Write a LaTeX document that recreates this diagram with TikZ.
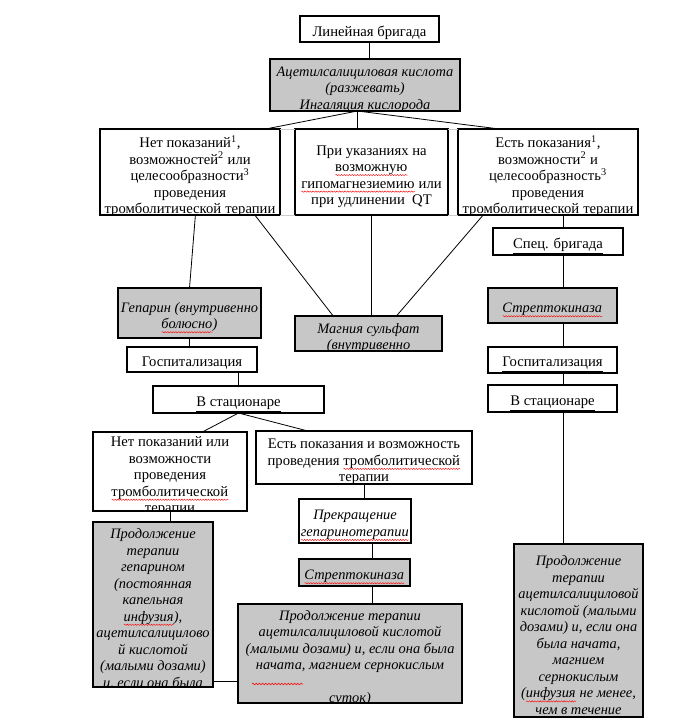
\documentclass[tikz,border=0pt]{standalone}
\usepackage{fontspec}
\setmainfont{Liberation Serif}
\usetikzlibrary{calc,decorations.pathmorphing}

% red wavy underline of the spell checker
\newsavebox{\spellbox}
\newcommand{\spell}[1]{\sbox{\spellbox}{#1}\rlap{\usebox{\spellbox}}\tikz[x=1pt,y=1pt,baseline=2.6pt]
    \draw[red, line width=0.3pt, decorate, decoration={snake, amplitude=0.5pt, segment length=2pt}] (0pt,0pt) -- (\wd\spellbox,0pt);}
\newcommand{\boxfont}{\fontsize{11}{12.4}\selectfont}
\newcommand{\drugfont}{\fontsize{10.8}{12.4}\selectfont\itshape}

\tikzset{
    box/.style={draw, line width=1.9pt, inner sep=0pt, outer sep=0pt},
    drug/.style={box, fill=black!22},
    wh/.style 2 args={minimum width=#1*0.75pt, minimum height=#2*0.75pt},
    txt/.style 2 args={path picture={\node[anchor=north, align=center, inner sep=0pt, font=#1]
        at ([yshift=-3.5pt]path picture bounding box.north) {#2};}},
    utxt/.style={txt={\boxfont}{#1}},
    itxt/.style={txt={\drugfont}{#1}},
    link/.style={line width=0.6pt},
}

\begin{document}
\begin{tikzpicture}[x=0.75pt,y=-0.75pt]
    \useasboundingbox (0,0) rectangle (699,720);
    % top
    \node[box, wh={139}{26}, utxt={\underline{Линейная бригада}}] (lin) at (369.5,29) {};
    \node[drug, wh={190}{52}, itxt={Ацетилсалициловая кислота\\(разжевать)\\Ингаляция кислорода}] (asa) at (365,85) {};
    \node[box, wh={180}{86}, utxt={Нет показаний\textsuperscript{1},\\возможностей\textsuperscript{2} или\\целесообразности\textsuperscript{3}\\проведения\\\spell{тромболитической} терапии}] (noind) at (190,172) {};
    \node[box, wh={153}{86}, utxt={При указаниях на\\\spell{возможную}\\\spell{гипомагнезиемию} или\\при удлинении~ QT}] (hypo) at (371.5,172) {};
    \node[box, wh={180}{86}, utxt={Есть показания\textsuperscript{1},\\возможности\textsuperscript{2} и\\целесообразность\textsuperscript{3}\\проведения\\\spell{тромболитической} терапии}] (ind) at (548,172) {};
    % middle
    \node[box, wh={130}{27}, utxt={\underline{Спец. бригада}}] (spec) at (558,241.5) {};
    \node[drug, wh={143}{50}, itxt={Гепарин (внутривенно\\\spell{болюсно})}] (hep) at (189.5,313) {};
    \node[drug, wh={147}{35}, itxt={Магния сульфат\\(внутривенно}] (mag) at (368.5,333.5) {};
    \node[drug, wh={129}{35}, itxt={\spell{Стрептокиназа}}] (strR) at (552.5,305.5) {};
    \node[box, wh={130}{25}, utxt={\underline{Госпитализация}}] (hospL) at (192,359.5) {};
    \node[box, wh={129}{26}, utxt={\underline{Госпитализация}}] (hospR) at (552.5,360) {};
    \node[box, wh={171}{27}, utxt={\underline{В стационаре}}] (statL) at (238.5,399.5) {};
    \node[box, wh={129}{27}, utxt={\underline{В стационаре}}] (statR) at (552.5,398.5) {};
    % bottom
    \node[box, wh={154}{79}, utxt={Нет показаний или\\возможности\\проведения\\\spell{тромболитической}\\терапии}] (noind2) at (170,471.5) {};
    \node[box, wh={216}{53}, utxt={Есть показания и возможность\\проведения \spell{тромболитической}\\терапии}] (ind2) at (364,457.5) {};
    \node[box, wh={112}{44}, itxt={Прекращение\\\spell{гепаринотерапии}}] (stop) at (355,521) {};
    \node[drug, wh={111}{27}, itxt={\spell{Стрептокиназа}}] (strM) at (354.5,572.5) {};
    \node[drug, wh={120}{165}, itxt={Продолжение\\терапии\\гепарином\\(постоянная\\капельная\\\spell{инфузия}),\\ацетилсалицилово\\й кислотой\\(малыми дозами)\\и, если она была}] (contL) at (153,604.5) {};
    \node[drug, wh={224}{99}, itxt={Продолжение терапии\\ацетилсалициловой кислотой\\(малыми дозами) и, если она была\\начата, магнием сернокислым\\[12.4pt]суток)}] (contM) at (350,653.5) {};
    \node[drug, wh={129}{173}, itxt={Продолжение\\терапии\\ацетилсалициловой\\кислотой (малыми\\дозами) и, если она\\была начата,\\магнием\\сернокислым\\(\spell{инфузия} не менее,\\чем в течение}] (contR) at (578.5,630.5) {};
    \draw[red, decorate, decoration={snake, amplitude=0.6pt, segment length=2.4pt}] (252,684) -- (303,684);

    % faint table lines between the three upper boxes
    \draw[gray!40, line width=0.5pt] (noind.north east) -- (hypo.north west) (hypo.north east) -- (ind.north west)
        (noind.south east) -- (hypo.south west) (hypo.south east) -- (ind.south west);

    % connectors
    \coordinate (asaout) at ($(asa.south west)!0.46!(asa.south east)$);
    \coordinate (rcol) at (563,0);
    \coordinate (mcol) at (372,0);
    \coordinate (hline) at (0,681);
    \draw[link] (lin.south) -- (lin.south |- asa.north);
    \draw[link] (asaout) -- ($(noind.north west)!0.92!(noind.north east)$);
    \draw[link] (asaout) -- (asaout |- hypo.north);
    \draw[link] (asaout) -- ($(ind.north west)!0.23!(ind.north east)$);
    \draw[link] ($(noind.south west)!0.53!(noind.south east)$) -- (hep.north);
    \draw[link] ($(noind.south west)!0.86!(noind.south east)$) -- ($(mag.north west)!0.26!(mag.north east)$);
    \draw[link] (hypo.south) -- (hypo.south |- mag.north);
    \draw[link] ($(ind.south west)!0.14!(ind.south east)$) -- ($(mag.north west)!0.69!(mag.north east)$);
    \foreach \a/\b in {ind/spec, spec/strR, strR/hospR, hospR/statR, statR/contR} {
        \draw[link] (\a.south -| rcol) -- (\b.north -| rcol);
    }
    \draw[link] (hep.south) -- (hep.south |- hospL.north);
    \draw[link] (statL.north |- hospL.south) -- (statL.north);
    \draw[link] (statL.south) -- ($(noind2.north west)!0.71!(noind2.north east)$);
    \draw[link] (statL.south) -- ($(ind2.north west)!0.24!(ind2.north east)$);
    \draw[link] (noind2.south) -- (noind2.south |- contL.north);
    \draw[link] (ind2.south) -- (ind2.south |- stop.north);
    \foreach \a/\b in {stop/strM, strM/contM} {
        \draw[link] (\a.south -| mcol) -- (\b.north -| mcol);
    }
    \draw[link] (contL.east |- hline) -- (contM.west |- hline);
\end{tikzpicture}
\end{document}
